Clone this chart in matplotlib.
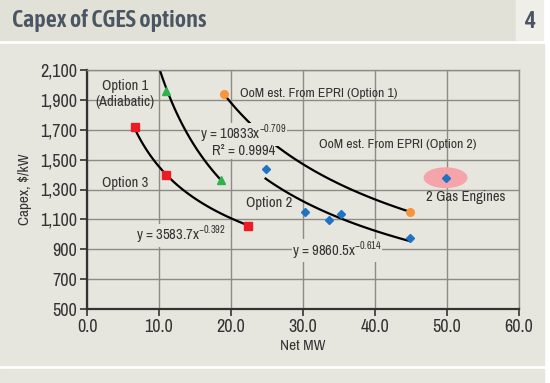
import matplotlib.pyplot as plt
from matplotlib.patches import Ellipse, Rectangle
from matplotlib.ticker import FuncFormatter
import numpy as np

plt.rcParams['font.family'] = ['Archivo Narrow', 'DejaVu Sans']
plt.rcParams['mathtext.fontset'] = 'custom'
plt.rcParams['mathtext.rm'] = 'Archivo Narrow'

# Data
opt3_x = [6.6, 11.0, 22.4]
opt3_y = [1720, 1400, 1055]
opt1_x = [11.0, 18.6]
opt1_y = [1960, 1365]
oom_x = [19.0, 44.9]
oom_y = [1940, 1150]
opt2_x = [24.9, 30.3, 33.6, 35.3, 44.9]
opt2_y = [1440, 1148, 1096, 1134, 978]
gas_x = [49.8]
gas_y = [1379]

# trendline coefficients shown in the chart (a * x^b)
fit1 = (10833, -0.709)
fit3 = (3583.7, -0.392)
fit2 = (9860.5, -0.614)

bg = '#e7e6de'
txt = '#333333'
W, H = 550, 383

fig = plt.figure(figsize=(5.5, 3.83), dpi=100, facecolor='white')

def box(x0, y0, x1, y1, c):
    fig.patches.append(Rectangle((x0 / W, 1 - y1 / H), (x1 - x0) / W, (y1 - y0) / H,
                                 transform=fig.transFigure, color=c, zorder=-10))

box(0, 0, 516, 40, '#e2e1d8')
box(516, 0, 543, 40, '#efeee9')
box(0, 44, 544, 365, bg)
box(0, 369, 544, 383, bg)

title_font = ['Asap Condensed', 'Archivo Narrow', 'DejaVu Sans']
fig.text(12 / W, 1 - 21 / H, 'Capex of CGES options', fontsize=17.5, fontweight='semibold',
         family=title_font, color='#4a5663', va='center', ha='left')
fig.text(530 / W, 1 - 21 / H, '4', fontsize=17, fontweight='semibold',
         family=title_font, color='#4a5663', va='center', ha='center')

ax = fig.add_axes([87 / W, 1 - 309 / H, (519 - 87) / W, (309 - 70) / H])
ax.set_facecolor('none')
ax.set_xlim(0, 60)
ax.set_ylim(500, 2100)
ax.set_xticks(np.arange(0, 61, 10))
ax.set_yticks(np.arange(500, 2101, 200))
ax.xaxis.set_major_formatter(FuncFormatter(lambda v, p: f'{v:.1f}'))
ax.yaxis.set_major_formatter(FuncFormatter(lambda v, p: f'{v:,.0f}'))
ax.tick_params(labelsize=13, colors=txt, length=5, width=1.2, direction='out', pad=2)
ax.grid(True, color='#8c8c86', lw=1)
ax.set_axisbelow(True)
for s in ['left', 'bottom']:
    ax.spines[s].set_color('#333333')
    ax.spines[s].set_linewidth(1.6)
for s in ['top', 'right']:
    ax.spines[s].set_color('#8c8c86')
    ax.spines[s].set_linewidth(1)

ax.set_xlabel('Net MW', fontsize=11, color=txt, labelpad=3)
ax.set_ylabel('Capex, $/kW', fontsize=11, color=txt, labelpad=6)

# trendlines
def power_line(a, b, x0, x1):
    xs = np.linspace(x0, x1, 100)
    ax.plot(xs, a * xs ** b, color='black', lw=1.6, zorder=2)

power_line(*fit1, 9.6, opt1_x[-1])
power_line(*fit3, opt3_x[0], opt3_x[-1])
power_line(*fit2, 24.8, opt2_x[-1])
b_oom, ln_a = np.polyfit(np.log(oom_x), np.log(oom_y), 1)
power_line(np.exp(ln_a), b_oom, oom_x[0], oom_x[-1])

ax.add_patch(Ellipse((gas_x[0], gas_y[0]), 5.9, 130, color='#f5a5aa', zorder=2))

ax.plot(opt3_x, opt3_y, 's', color='#ec1c24', ms=5.5, zorder=3, clip_on=False)
ax.plot(opt1_x, opt1_y, '^', color='#2eb24b', ms=6, zorder=3, clip_on=False)
ax.plot(oom_x, oom_y, 'o', color='#f7943c', ms=5.5, zorder=3, clip_on=False)
ax.plot(opt2_x, opt2_y, 'D', color='#1f73c4', ms=4.5, zorder=3, clip_on=False)
ax.plot(gas_x, gas_y, 'D', color='#1f73c4', ms=4.5, zorder=3, clip_on=False)

fs = 10.5
lbl = dict(fontsize=fs, color=txt, ha='center', va='center')
tb = dict(facecolor=bg, edgecolor='none', pad=0.2)
ax.text(5.3, 1995, 'Option 1', **lbl)
ax.text(5.3, 1888, '(Adiabatic)', **lbl)
ax.text(21.2, 1946, 'OoM est. From EPRI (Option 1)', fontsize=9.8, color=txt, ha='left', va='center')
ax.text(21.7, 1670, 'y = 10833x$^{\\mathregular{-0.709}}$', bbox=tb, **lbl)
ax.text(21.7, 1556, 'R² = 0.9994', bbox=tb, **lbl)
ax.text(43.2, 1598, 'OoM est. From EPRI (Option 2)', fontsize=9.8, color=txt, ha='center', va='center')
ax.text(52.6, 1252, '2 Gas Engines', **lbl)
ax.text(5.35, 1346, 'Option 3', **lbl)
ax.text(25.3, 1210, 'Option 2', **lbl)
ax.text(13.1, 995, 'y = 3583.7x$^{\\mathregular{-0.392}}$', bbox=tb, **lbl)
ax.text(34.7, 890, 'y = 9860.5x$^{\\mathregular{-0.614}}$', bbox=tb, **lbl)

fig.savefig('out.png', dpi=100)
